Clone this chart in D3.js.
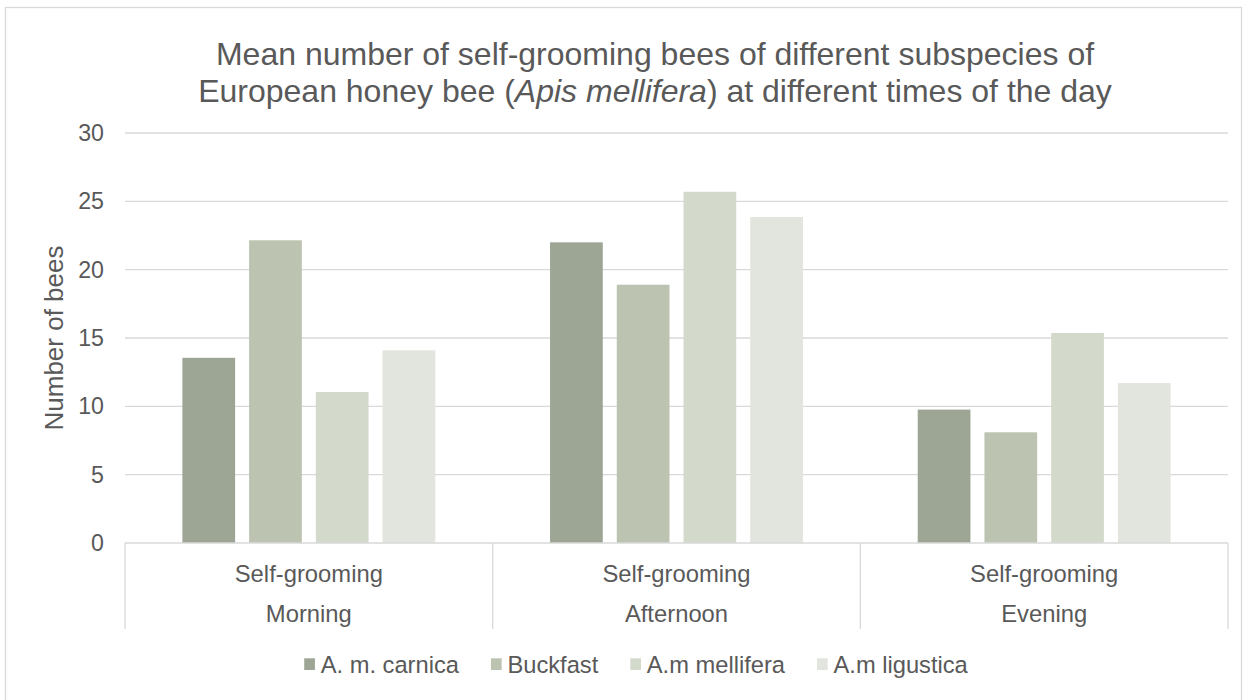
<!DOCTYPE html>
<html>
<head>
<meta charset="utf-8">
<script src="https://cdn.jsdelivr.net/npm/d3@7"></script>
<style>
  body { margin: 0; background: #fff; }
  text { font-family: "Liberation Sans", Arial, sans-serif; fill: #595959; }
</style>
</head>
<body>
<svg id="chart" width="1255" height="700"></svg>
<script>
// chart data
const times = ["Morning", "Afternoon", "Evening"];
const behaviour = "Self-grooming";
const subspecies = ["A. m. carnica", "Buckfast", "A.m mellifera", "A.m ligustica"];
const carnica = [13.55, 22.0, 9.76];
const buckfast = [22.15, 18.9, 8.1];
const mellifera = [11.05, 25.7, 15.37];
const ligustica = [14.1, 23.85, 11.7];
const yTicks = [0, 5, 10, 15, 20, 25, 30];
const colors = ["#9da595", "#bcc3b0", "#d3dacb", "#e2e5dd"];

const seriesValues = [carnica, buckfast, mellifera, ligustica];
const rows = times.map((t, i) => ({
    time: t,
    values: subspecies.map((s, j) => ({ key: s, value: seriesValues[j][i] }))
}));

const svg = d3.select("#chart");
const margin = { left: 125, right: 1228, top: 133, bottom: 543 };

// chart area border
svg.append("rect")
    .attr("x", 5.5).attr("y", 7.5)
    .attr("width", 1236).attr("height", 720)
    .attr("fill", "none")
    .attr("stroke", "#d9d9d9")
    .attr("stroke-width", 1.3);

const x0 = d3.scaleBand()
    .domain(times)
    .range([margin.left, margin.right])
    .paddingInner(0).paddingOuter(0);

const x1 = d3.scaleBand()
    .domain(subspecies)
    .range([0, x0.bandwidth()])
    .paddingInner(0.21)
    .paddingOuter(0.86);

const y = d3.scaleLinear()
    .domain([0, 30])
    .range([margin.bottom, margin.top]);

// gridlines
svg.append("g")
    .selectAll("line")
    .data(yTicks.filter(d => d > 0))
    .enter().append("line")
    .attr("x1", margin.left).attr("x2", margin.right)
    .attr("y1", d => y(d)).attr("y2", d => y(d))
    .attr("stroke", "#d9d9d9")
    .attr("stroke-width", 1.3);

// y axis labels
const yAxis = d3.axisLeft(y).tickValues(yTicks).tickSize(0).tickPadding(21);
const yg = svg.append("g")
    .attr("transform", "translate(" + margin.left + ",0)")
    .call(yAxis);
yg.select(".domain").remove();
yg.selectAll("text")
    .style("font-size", "23.2px")
    .style("fill", "#595959")
    .style("font-family", "Liberation Sans, Arial, sans-serif");

// bars
const groups = svg.append("g")
    .selectAll("g")
    .data(rows)
    .enter().append("g")
    .attr("transform", d => "translate(" + x0(d.time) + ",0)");

groups.selectAll("rect")
    .data(d => d.values)
    .enter().append("rect")
    .attr("x", d => x1(d.key))
    .attr("width", x1.bandwidth())
    .attr("y", d => y(d.value))
    .attr("height", d => y(0) - y(d.value))
    .attr("fill", (d, i) => colors[i]);

// category axis box
const axisBottom = margin.bottom;
svg.append("line")
    .attr("x1", margin.left).attr("x2", margin.right)
    .attr("y1", axisBottom).attr("y2", axisBottom)
    .attr("stroke", "#d9d9d9").attr("stroke-width", 1.3);

const sepX = times.map(t => x0(t)).concat([margin.right]);
svg.append("g")
    .selectAll("line")
    .data(sepX)
    .enter().append("line")
    .attr("x1", d => d).attr("x2", d => d)
    .attr("y1", axisBottom).attr("y2", 629)
    .attr("stroke", "#d9d9d9").attr("stroke-width", 1.3);

const catLabels = svg.append("g");
catLabels.selectAll("text.beh")
    .data(times)
    .enter().append("text")
    .attr("class", "beh")
    .attr("x", d => x0(d) + x0.bandwidth() / 2)
    .attr("y", 582)
    .attr("text-anchor", "middle")
    .style("font-size", "23.8px")
    .text(behaviour);
catLabels.selectAll("text.time")
    .data(times)
    .enter().append("text")
    .attr("class", "time")
    .attr("x", d => x0(d) + x0.bandwidth() / 2)
    .attr("y", 622)
    .attr("text-anchor", "middle")
    .style("font-size", "23.8px")
    .text(d => d);

// y axis title
svg.append("text")
    .attr("transform", "translate(63,338) rotate(-90)")
    .attr("text-anchor", "middle")
    .style("font-size", "26px")
    .text("Number of bees");

// title
const title = svg.append("text")
    .attr("text-anchor", "middle")
    .style("font-size", "32px");
title.append("tspan")
    .attr("x", 655).attr("y", 65)
    .text("Mean number of self-grooming bees of different subspecies of");
const line2 = title.append("tspan")
    .attr("x", 655).attr("y", 102);
line2.append("tspan").text("European honey bee (");
line2.append("tspan").style("font-style", "italic").text("Apis mellifera");
line2.append("tspan").text(") at different times of the day");

// legend
const legend = svg.append("g");
let lx = 0;
subspecies.forEach((s, i) => {
    const item = legend.append("g").attr("transform", "translate(" + lx + ",0)");
    item.append("rect")
        .attr("x", 0).attr("y", -14.7)
        .attr("width", 10.7).attr("height", 11.7)
        .attr("fill", colors[i]);
    const t = item.append("text")
        .attr("x", 16.5).attr("y", 0)
        .style("font-size", "23.7px")
        .text(s);
    lx += 16.5 + t.node().getComputedTextLength() + 32;
});
const legendWidth = lx - 32;
legend.attr("transform", "translate(" + (636 - legendWidth / 2) + ",673)");
</script>
</body>
</html>
